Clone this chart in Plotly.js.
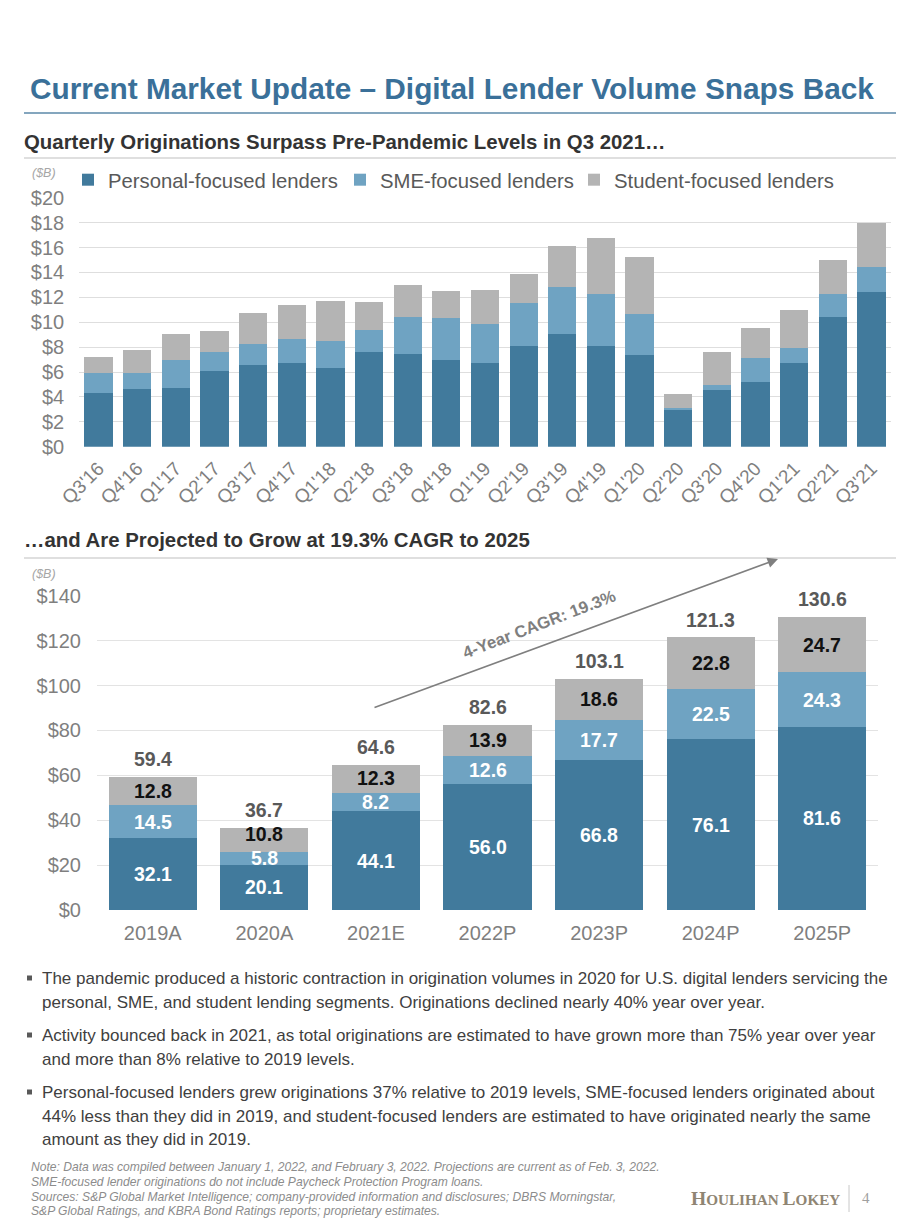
<!DOCTYPE html>
<html>
<head>
<meta charset="utf-8">
<script src="https://cdn.plot.ly/plotly-3.0.1.min.js"></script>
<style>
  html, body { margin: 0; padding: 0; background: #ffffff; }
  #chart { width: 920px; height: 1227px; }
</style>
</head>
<body>
<div id="chart"></div>
<script>
// ---------- DATA ----------
var quarters = ["Q3'16","Q4'16","Q1'17","Q2'17","Q3'17","Q4'17","Q1'18","Q2'18","Q3'18","Q4'18",
                "Q1'19","Q2'19","Q3'19","Q4'19","Q1'20","Q2'20","Q3'20","Q4'20","Q1'21","Q2'21","Q3'21"];
var qPersonal = [4.34,4.60,4.71,6.10,6.56,6.72,6.35,7.60,7.47,6.99,6.69,8.09,9.02,8.09,7.39,2.95,4.55,5.22,6.75,10.44,12.42];
var qSME      = [1.60,1.34,2.25,1.50,1.71,1.95,2.11,1.80,2.94,3.34,3.14,3.48,3.80,4.20,3.29,0.13,0.40,1.88,1.15,1.80,2.04];
var qStudent  = [1.26,1.80,2.09,1.72,2.47,2.68,3.27,2.22,2.60,2.15,2.73,2.27,3.32,4.47,4.58,1.12,2.68,2.40,3.10,2.73,3.48];

var years      = ["2019A","2020A","2021E","2022P","2023P","2024P","2025P"];
var yPersonal  = [32.1,20.1,44.1,56.0,66.8,76.1,81.6];
var ySME       = [14.5,5.8,8.2,12.6,17.7,22.5,24.3];
var yStudent   = [12.8,10.8,12.3,13.9,18.6,22.8,24.7];
var yTotals    = [59.4,36.7,64.6,82.6,103.1,121.3,130.6];

var seriesNames = ["Personal-focused lenders","SME-focused lenders","Student-focused lenders"];
var topTicks = [0,2,4,6,8,10,12,14,16,18,20];
var topTickText = ["$0","$2","$4","$6","$8","$10","$12","$14","$16","$18","$20"];
var botTicks = [0,20,40,60,80,100,120,140];
var botTickText = ["$0","$20","$40","$60","$80","$100","$120","$140"];

var titleText = "Current Market Update \u2013 Digital Lender Volume Snaps Back";
var sub1Text = "Quarterly Originations Surpass Pre-Pandemic Levels in Q3 2021\u2026";
var sub2Text = "\u2026and Are Projected to Grow at 19.3% CAGR to 2025";
var cagrText = "4-Year CAGR: 19.3%";
var bullets = [
  ["The pandemic produced a historic contraction in origination volumes in 2020 for U.S. digital lenders servicing the",
   "personal, SME, and student lending segments. Originations declined nearly 40% year over year."],
  ["Activity bounced back in 2021, as total originations are estimated to have grown more than 75% year over year",
   "and more than 8% relative to 2019 levels."],
  ["Personal-focused lenders grew originations 37% relative to 2019 levels, SME-focused lenders originated about",
   "44% less than they did in 2019, and student-focused lenders are estimated to have originated nearly the same",
   "amount as they did in 2019."]
];
var notes = [
  "Note: Data was compiled between January 1, 2022, and February 3, 2022. Projections are current as of Feb. 3, 2022.",
  "SME-focused lender originations do not include Paycheck Protection Program loans.",
  "Sources: S&amp;P Global Market Intelligence; company-provided information and disclosures; DBRS Morningstar,",
  "S&amp;P Global Ratings, and KBRA Bond Ratings reports; proprietary estimates."
];

// ---------- STYLE ----------
var W = 920, H = 1227;
function X(px) { return px / W; }
function Y(py) { return 1 - py / H; }
var C_PERS = "#417a9c", C_SME = "#6fa3c2", C_STU = "#b4b4b4";
var FONT = "Liberation Sans, Arial, sans-serif";
var GRAY = "#7f7f7f";
var BOT_TOP_PX = 595.7, BOT_BOT_PX = 910, BOT_MAX = 140;
var PX_PER_UNIT = (BOT_BOT_PX - BOT_TOP_PX) / BOT_MAX;
var LABEL_MIN_GAP = 24;   // px between stacked label centres

// ---------- TRACES ----------
var colors = [C_PERS, C_SME, C_STU];
var topSeries = [qPersonal, qSME, qStudent];
var botSeries = [yPersonal, ySME, yStudent];
var legendIds = ["legend", "legend2", "legend3"];
var traces = [];
for (var i = 0; i < 3; i++) {
  traces.push({
    type: "bar", name: seriesNames[i], x: quarters, y: topSeries[i],
    xaxis: "x", yaxis: "y", width: 0.73, legend: legendIds[i],
    marker: { color: colors[i], line: { width: 0 } },
    hoverinfo: "skip"
  });
}
for (var j = 0; j < 3; j++) {
  traces.push({
    type: "bar", name: seriesNames[j], x: years, y: botSeries[j],
    xaxis: "x2", yaxis: "y2", width: 0.79, showlegend: false,
    marker: { color: colors[j], line: { width: 0 } },
    hoverinfo: "skip"
  });
}

// ---------- ANNOTATIONS ----------
var ann = [];
function txt(px, py, text, size, color, opts) {
  var a = { xref: "paper", yref: "paper", x: X(px), y: Y(py), text: text, showarrow: false,
            xanchor: "left", yanchor: "middle", font: { family: FONT, size: size, color: color } };
  if (opts) for (var k in opts) a[k] = opts[k];
  return a;
}
ann.push(txt(28, 88, "<b>" + titleText + "</b>", 29.8, "#3a7099"));
ann.push(txt(22, 142, "<b>" + sub1Text + "</b>", 20.4, "#333333"));
ann.push(txt(22, 540, "<b>" + sub2Text + "</b>", 20.4, "#333333"));
ann.push(txt(30, 173, "<i>($B)</i>", 12.5, "#a6a6a6"));
ann.push(txt(30, 574, "<i>($B)</i>", 12.5, "#a6a6a6"));

// bar segment labels (bottom chart), nudged apart when a segment is too thin
for (var b = 0; b < years.length; b++) {
  var p = yPersonal[b], s = ySME[b], st = yStudent[b];
  var mids = [p / 2, p + s / 2, p + s + st / 2];
  var vals = [p, s, st];
  var cols = ["#ffffff", "#ffffff", "#111111"];
  var shifts = [0, 0, 0];
  for (var m = 1; m < 3; m++) {
    var gap = (mids[m] - mids[m - 1]) * PX_PER_UNIT + shifts[m - 1];
    if (gap < LABEL_MIN_GAP) shifts[m] = shifts[m - 1] + (LABEL_MIN_GAP - (mids[m] - mids[m - 1]) * PX_PER_UNIT) - shifts[m - 1];
    if (gap < LABEL_MIN_GAP) shifts[m] = LABEL_MIN_GAP - (mids[m] - mids[m - 1]) * PX_PER_UNIT + shifts[m - 1];
  }
  for (var m2 = 0; m2 < 3; m2++) {
    ann.push({ xref: "x2", yref: "y2", x: years[b], y: mids[m2], yshift: shifts[m2],
               text: "<b>" + vals[m2].toFixed(1) + "</b>",
               showarrow: false, xanchor: "center", yanchor: "middle",
               font: { family: FONT, size: 19.5, color: cols[m2] } });
  }
  ann.push({ xref: "x2", yref: "y2", x: years[b], y: yTotals[b], text: "<b>" + yTotals[b].toFixed(1) + "</b>",
             showarrow: false, xanchor: "center", yanchor: "bottom", yshift: 5,
             font: { family: FONT, size: 19.5, color: "#595959" } });
}

// CAGR arrow and label
ann.push({ xref: "paper", yref: "paper", x: X(778), y: Y(559), ax: X(373), ay: Y(708),
           axref: "paper", ayref: "paper", text: "", showarrow: true,
           arrowhead: 2, arrowsize: 1.3, arrowwidth: 1.6, arrowcolor: "#7f7f7f" });
ann.push({ xref: "paper", yref: "paper", x: X(539), y: Y(624), text: "<b>" + cagrText + "</b>",
           showarrow: false, textangle: -21, xanchor: "center", yanchor: "middle",
           font: { family: FONT, size: 16.8, color: "#7f7f7f" } });

// bullets
var bulletY = [[978, 1002], [1035, 1059], [1092, 1116, 1139]];
for (var q = 0; q < bullets.length; q++) {
  for (var r = 0; r < bullets[q].length; r++) {
    ann.push(txt(40, bulletY[q][r], bullets[q][r], 17, "#404040"));
  }
}
// notes
var noteY = [1167, 1182, 1197, 1211];
for (var n = 0; n < notes.length; n++) {
  ann.push(txt(29, noteY[n], "<i>" + notes[n] + "</i>", 12.1, "#8c8c8c"));
}
// logo + page number
ann.push({ xref: "paper", yref: "paper", x: X(842), y: Y(1198), xanchor: "right", yanchor: "middle",
           showarrow: false,
           text: "<b><span style=\"font-size:19.5px\">H</span>OULIHAN <span style=\"font-size:19.5px\">L</span>OKEY</b>",
           font: { family: "Liberation Serif, DejaVu Serif, serif", size: 15.2, color: "#8f8573" } });
ann.push(txt(860, 1198, "4", 15, "#a0a0a0", { font: { family: "Liberation Serif, serif", size: 15, color: "#a0a0a0" } }));

// ---------- SHAPES ----------
var shapes = [
  { type: "line", xref: "paper", yref: "paper", x0: X(24), x1: X(896), y0: Y(113), y1: Y(113),
    line: { color: "#5b89a8", width: 1.5 } },
  { type: "line", xref: "paper", yref: "paper", x0: X(24), x1: X(896), y0: Y(158), y1: Y(158),
    line: { color: "#bfbfbf", width: 1 } },
  { type: "line", xref: "paper", yref: "paper", x0: X(24), x1: X(896), y0: Y(558), y1: Y(558),
    line: { color: "#bfbfbf", width: 1 } },
  { type: "line", xref: "paper", yref: "paper", x0: X(849), x1: X(849), y0: Y(1185), y1: Y(1212),
    line: { color: "#c8c8c8", width: 1 } }
];
var bulletCenters = [978, 1035, 1092];
for (var t = 0; t < bulletCenters.length; t++) {
  shapes.push({ type: "rect", xref: "paper", yref: "paper", x0: X(27), x1: X(32),
                y0: Y(bulletCenters[t] + 2.5), y1: Y(bulletCenters[t] - 2.5),
                fillcolor: "#595959", line: { width: 0 } });
}

// ---------- LAYOUT ----------
var axisFont = { family: FONT, size: 20, color: GRAY };
function legendAt(px) {
  return { orientation: "h", x: X(px), y: Y(180), xanchor: "left", yanchor: "middle",
           font: { family: FONT, size: 20.3, color: "#595959" }, itemwidth: 30,
           bgcolor: "rgba(0,0,0,0)", itemclick: false, itemdoubleclick: false };
}
var layout = {
  width: W, height: H,
  margin: { l: 0, r: 0, t: 0, b: 0 },
  paper_bgcolor: "#ffffff", plot_bgcolor: "#ffffff",
  barmode: "stack",
  showlegend: true,
  legend: legendAt(68),
  legend2: legendAt(340),
  legend3: legendAt(574),
  xaxis: { domain: [X(79.2), X(890.8)], anchor: "y", type: "category",
           tickangle: -45, tickfont: { family: FONT, size: 19, color: GRAY },
           showgrid: false, showline: false, ticks: "", ticklabelstandoff: 6, fixedrange: true },
  yaxis: { domain: [Y(446.7), Y(197.7)], anchor: "x", range: [0, 20],
           tickvals: topTicks, ticktext: topTickText, tickfont: axisFont,
           showgrid: true, gridcolor: "#dedede", gridwidth: 1, zeroline: false,
           showline: false, ticks: "", ticklabelstandoff: 14, fixedrange: true },
  xaxis2: { domain: [X(97), X(878)], anchor: "y2", type: "category",
            tickfont: axisFont, showgrid: false, showline: false, ticks: "",
            ticklabelstandoff: 9, fixedrange: true },
  yaxis2: { domain: [Y(BOT_BOT_PX), Y(BOT_TOP_PX)], anchor: "x2", range: [0, BOT_MAX],
            tickvals: botTicks, ticktext: botTickText, tickfont: axisFont,
            showgrid: true, gridcolor: "#e3e3e3", gridwidth: 1, zeroline: false,
            showline: false, ticks: "", ticklabelstandoff: 15, fixedrange: true },
  annotations: ann,
  shapes: shapes
};

Plotly.newPlot("chart", traces, layout, { displayModeBar: false, staticPlot: true });
</script>
</body>
</html>
